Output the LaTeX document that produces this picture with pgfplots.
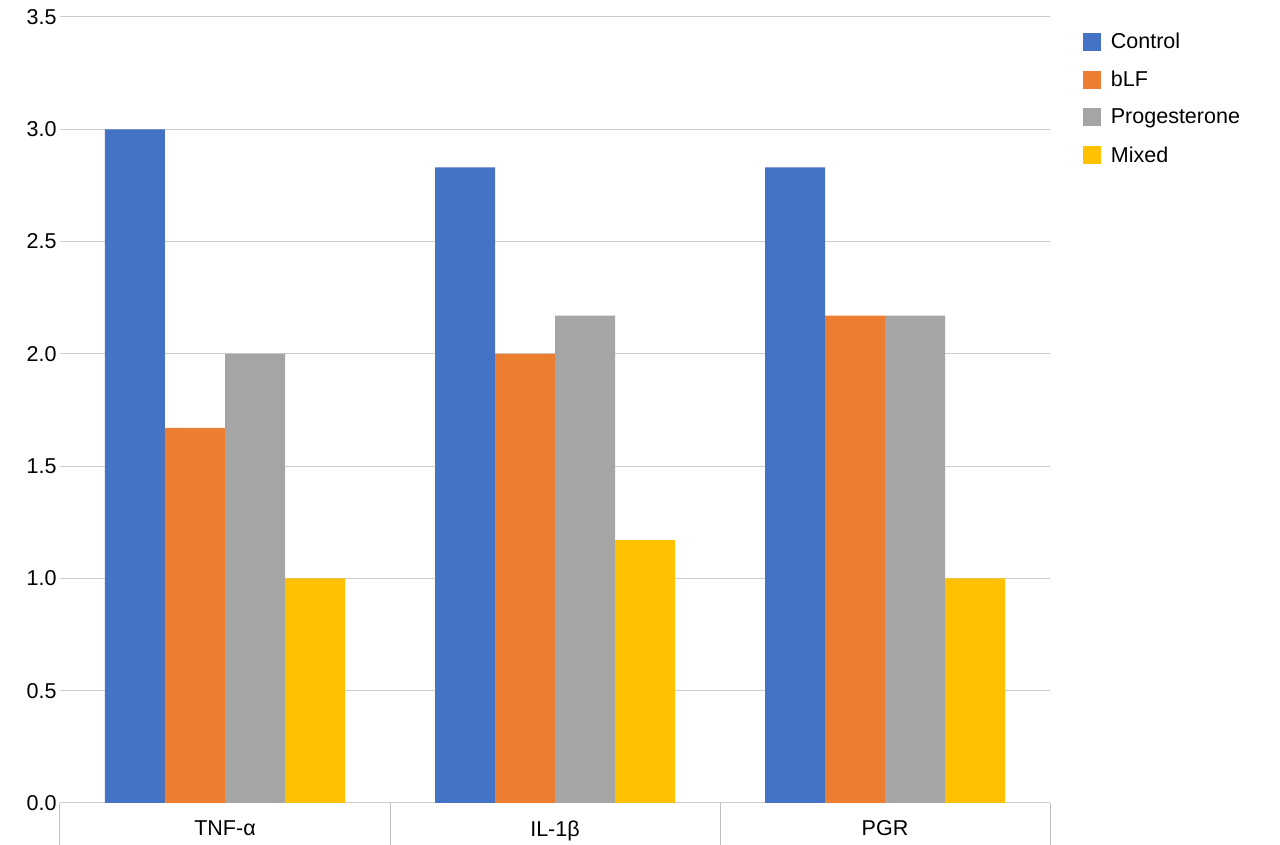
\documentclass[border=0pt]{standalone}
\usepackage{pgfplots}
\pgfplotsset{compat=1.18}
\usepackage{fontspec}
\setmainfont{Liberation Sans}
\definecolor{cA}{HTML}{4472C4}
\definecolor{cB}{HTML}{ED7D31}
\definecolor{cC}{HTML}{A5A5A5}
\definecolor{cD}{HTML}{FFC000}
\begin{document}
\begin{tikzpicture}
\path[use as bounding box] (-60pt,-42pt) rectangle (1220pt,803pt);
\begin{axis}[at={(0,0)}, anchor=south west, scale only axis,
  width=990pt, height=786pt,
  ybar=0pt, bar width=60pt,
  xmin=-0.5, xmax=2.5, ymin=0, ymax=3.5,
  ytick={0,0.5,...,3.5},
  yticklabel style={/pgf/number format/.cd,fixed,fixed zerofill,precision=1},
  /pgf/number format/assume math mode=true,
  font=\fontsize{21.5}{25}\selectfont,
  ymajorgrids, grid style={gray!40, line width=1pt},
  axis line style={draw=none},
  ytick style={draw=none},
  xtick pos=lower,
  xtick={0,1,2}, xticklabels={TNF-α, IL-1β, PGR},
  major tick length=0pt,
  xticklabel style={yshift=-14pt},
  extra x ticks={-0.5,0.5,1.5,2.5}, extra x tick labels={},
  extra x tick style={xtick align=outside, xtick pos=lower, major tick length=42pt, tick style={draw=gray!50, line width=1pt}, grid=none},
  enlarge x limits=false,
  legend style={at={(1.03,0.985)}, anchor=north west, draw=none, fill=none,
    font=\fontsize{21.5}{25}\selectfont, row sep=17pt, cells={anchor=west}},
  legend image code/.code={\fill[#1] (0pt,-9pt) rectangle (18pt,9pt);},
  legend cell align=left,
]
\addplot[fill=cA, draw=none] coordinates {(0,3.0) (1,2.83) (2,2.83)};
\addplot[fill=cB, draw=none] coordinates {(0,1.67) (1,2.0) (2,2.17)};
\addplot[fill=cC, draw=none] coordinates {(0,2.0) (1,2.17) (2,2.17)};
\addplot[fill=cD, draw=none] coordinates {(0,1.0) (1,1.17) (2,1.0)};
\legend{\hspace{8pt}Control, \hspace{8pt}bLF, \hspace{8pt}Progesterone, \hspace{8pt}Mixed}
\end{axis}
\end{tikzpicture}
\end{document}
